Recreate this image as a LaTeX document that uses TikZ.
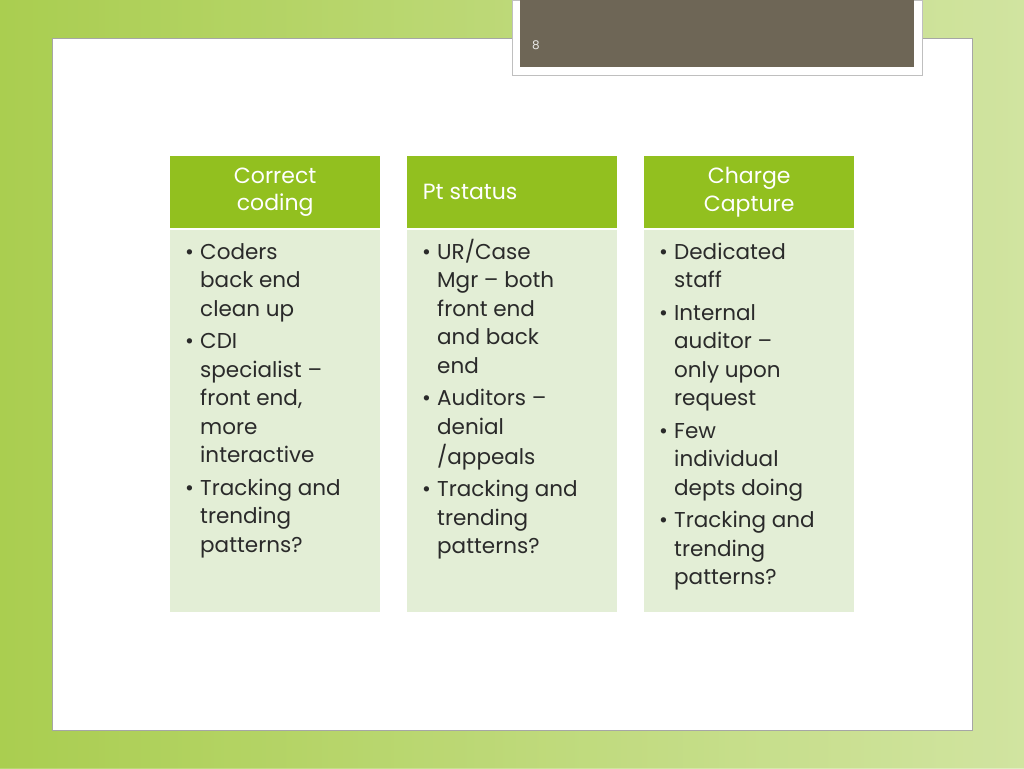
\documentclass[tikz,border=0pt]{standalone}
\usepackage{fontspec}
\setmainfont{Poppins}
\definecolor{hdr}{HTML}{92C01F}
\definecolor{bodyc}{HTML}{E3EED6}
\definecolor{txt}{HTML}{2A2A2A}
\definecolor{tab}{HTML}{6E6656}
\newcommand{\bl}[1]{\strut\makebox[15pt][l]{•}#1}
\newcommand{\cl}[1]{\strut\hspace*{15pt}#1}
\tikzset{
 hdrbox/.style={fill=hdr,draw=none,minimum width=210pt,minimum height=72pt,anchor=north west,text=white,align=center,font=\fontsize{22}{27.5}\selectfont},
 bodybox/.style={fill=bodyc,draw=none,minimum width=210pt,minimum height=382pt,anchor=north west},
 bodytxt/.style={anchor=north west,align=left,text=txt,font=\fontsize{21.5}{28.5}\selectfont,inner sep=0pt}
}
\begin{document}
\begin{tikzpicture}[x=1pt,y=-1pt]
\useasboundingbox (0,0) rectangle (1024,768);
\fill[color=hdr!70!white] (0,0) rectangle (1024,768);
\shade[left color=hdr!80!white,right color=hdr!35!white,opacity=0.8] (0,0) rectangle (1024,768);
\node[draw=gray!70,fill=white,line width=0.8pt,anchor=north west,minimum width=920pt,minimum height=692pt,inner sep=0pt] (panel) at (52,38) {};
\node[fill=white,draw=gray!50,anchor=north west,minimum width=410pt,minimum height=75pt,inner sep=0pt] (tabo) at (512,0) {};
\node[fill=tab,anchor=north west,minimum width=394pt,minimum height=67pt,inner sep=0pt] (tabi) at (520,0) {};
\node[text=white!85!tab,font=\fontsize{12}{14}\selectfont] (num) at (536,45) {8};
\node[hdrbox] (h1) at (170,156) {Correct\\coding};
\node[hdrbox] (h2) at (407,156) {\hspace*{-84pt}Pt status};
\node[hdrbox] (h3) at (644,156) {Charge\\Capture};
\node[bodybox] (b1) at (170,230) {};
\node[bodybox] (b2) at (407,230) {};
\node[bodybox] (b3) at (644,230) {};
\node[bodytxt] (t1) at (185,239) {\bl{Coders}\\\cl{back end}\\\cl{clean up}\\[4pt]\bl{CDI}\\\cl{specialist –}\\\cl{front end,}\\\cl{more}\\\cl{interactive}\\[4pt]\bl{Tracking and}\\\cl{trending}\\\cl{patterns?}};
\node[bodytxt] (t2) at (422,239) {\bl{UR/Case}\\\cl{Mgr – both}\\\cl{front end}\\\cl{and back}\\\cl{end}\\[4pt]\bl{Auditors –}\\\cl{denial}\\\cl{/appeals}\\[4pt]\bl{Tracking and}\\\cl{trending}\\\cl{patterns?}};
\node[bodytxt] (t3) at (659,239) {\bl{Dedicated}\\\cl{staff}\\[4pt]\bl{Internal}\\\cl{auditor –}\\\cl{only upon}\\\cl{request}\\[4pt]\bl{Few}\\\cl{individual}\\\cl{depts doing}\\[4pt]\bl{Tracking and}\\\cl{trending}\\\cl{patterns?}};
\end{tikzpicture}
\end{document}
